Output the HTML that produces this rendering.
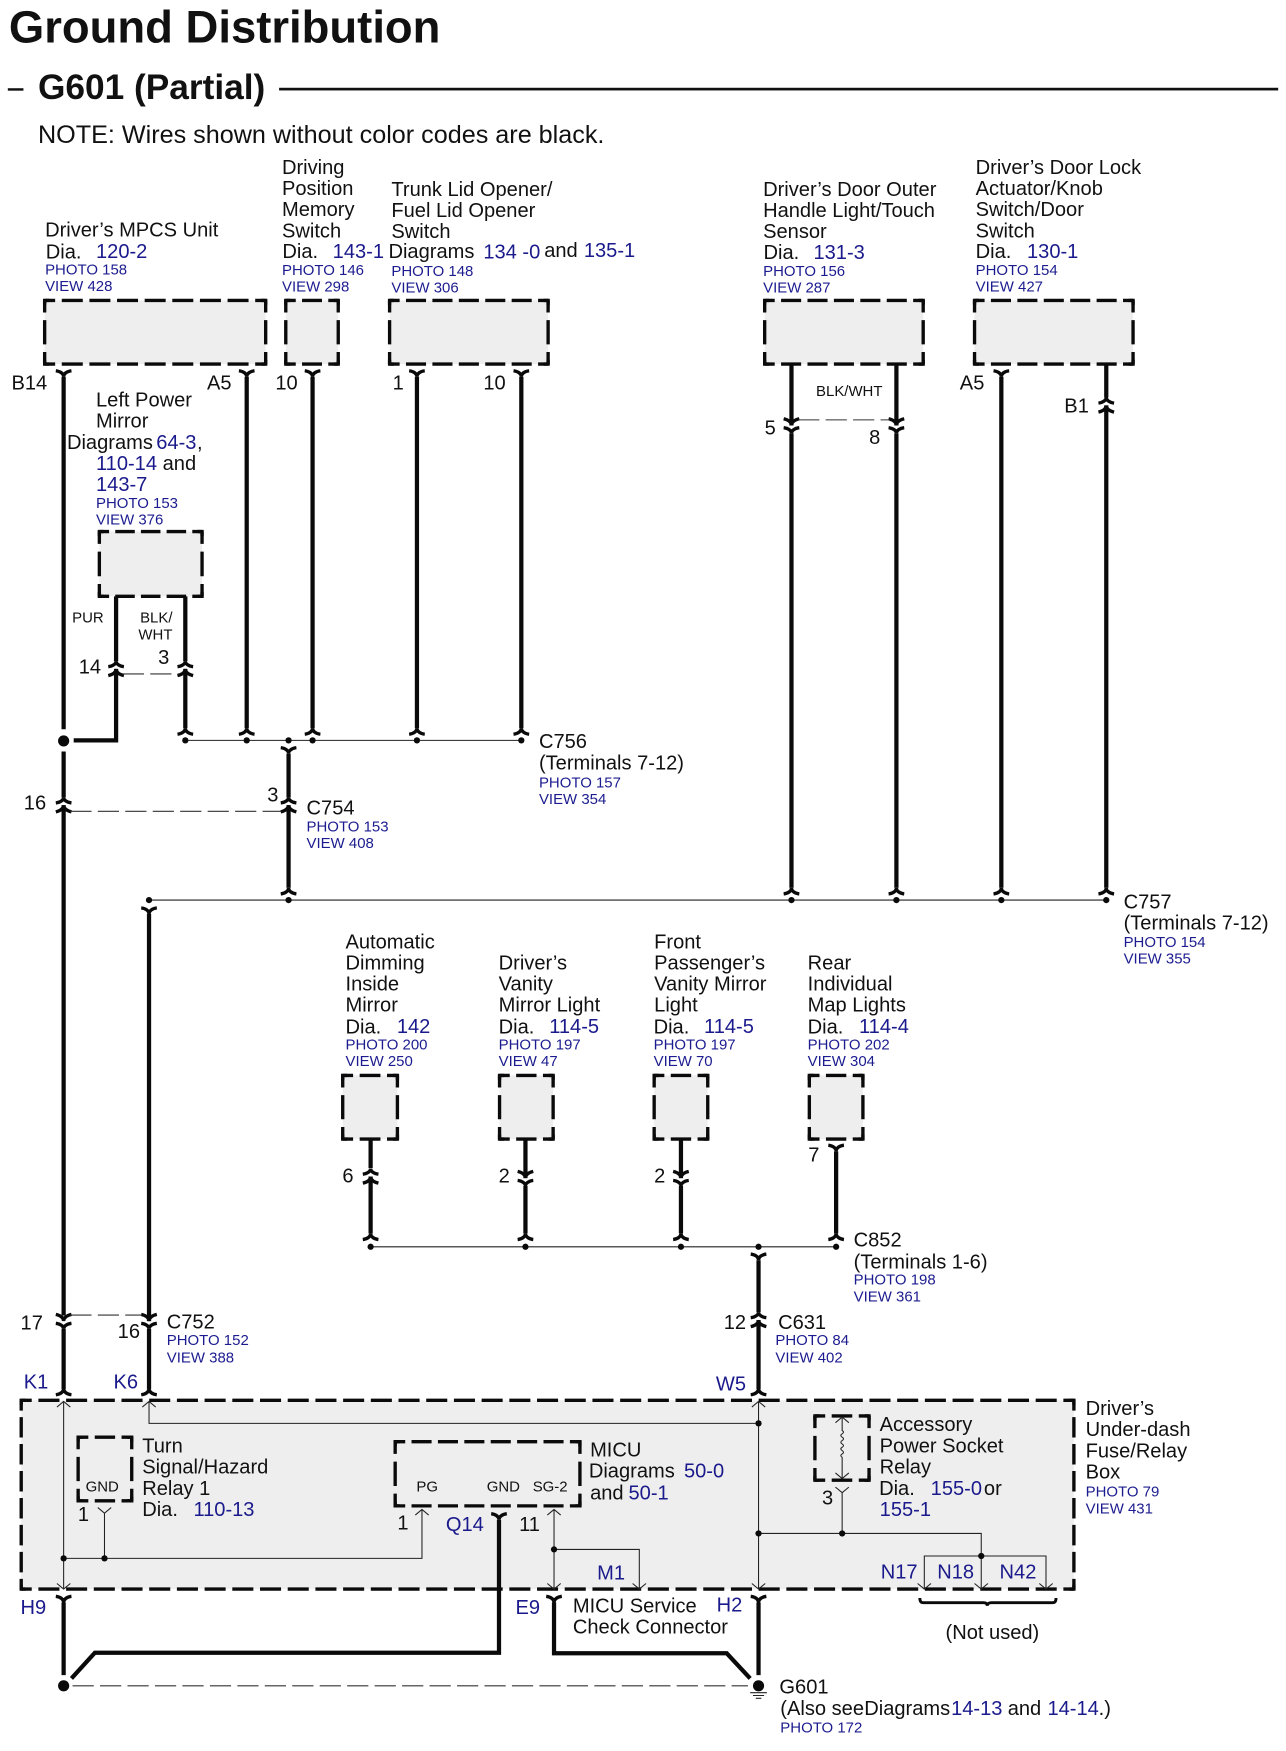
<!DOCTYPE html>
<html><head><meta charset="utf-8"><title>Ground Distribution G601</title>
<style>
html,body{margin:0;padding:0;background:#fff}
svg{display:block;width:1286px;height:1751px}
text{font-family:"Liberation Sans",Arial,sans-serif;font-size:18px;fill:#111}
.b{fill:#1a1a8c}
.p{font-size:13.4px;fill:#1c1c90}
.s{font-size:13.4px;fill:#111}
.w{fill:none;stroke:#0a0a0a;stroke-width:3.8}
.t{fill:none;stroke:#222;stroke-width:.95}
.c{fill:none;stroke:#0a0a0a;stroke-width:3}
.d{fill:none;stroke:#0a0a0a;stroke-width:3;stroke-dasharray:.76 .24;stroke-dashoffset:.38}
.k{fill:none;stroke:#0a0a0a;stroke-width:3}
.l{fill:none;stroke:#333;stroke-width:.95;stroke-dasharray:19 5.6}
</style></head><body>
<svg xmlns="http://www.w3.org/2000/svg" viewBox="0 0 1152 1568" preserveAspectRatio="none">
<defs>
<path id="f" class="c" d="M-7-5.5C-3-5 0-3 0 0C0-3 3-5 7-5.5"/>
<path id="a" class="c" d="M-7 5.5C-3 5 0 3 0 0C0 3 3 5 7 5.5"/>
<path id="dn" class="c" d="M-7-6C-3-5 0-3 0 0C0-3 3-5 7-6M-7 2C-3 2.5 0 4.5 0 7C0 4.5 3 2.500 7 2"/>
<path id="up" class="c" d="M-7 6C-3 5 0 3 0 0C0 3 3 5 7 6M-7-2C-3-2.500 0-4.500 0-7C0-4.500 3-2.500 7-2"/>
<path id="tu" class="t" d="M-6 5L0 0L6 5"/>
<path id="td" class="t" d="M-6-5L0 0L6-5"/>
</defs>

<!-- headers -->
<text x="8" y="38" style="font-size:40.7px;font-weight:bold" fill="#000">Ground Distribution</text>
<rect x="7" y="79" width="14" height="2.2" fill="#111"/>
<text x="34" y="88.6" style="font-size:31.6px;font-weight:bold">G601 (Partial)</text>
<rect x="250" y="78.6" width="895" height="2.4" fill="#111"/>
<text x="34" y="128" style="font-size:22.56px">NOTE: Wires shown without color codes are black.</text>

<!-- filled boxes -->
<g fill="#eee">
<rect x="40" y="269" width="198" height="57"/>
<rect x="256" y="269" width="47" height="57"/>
<rect x="349" y="269" width="142" height="57"/>
<rect x="685" y="269" width="142" height="57"/>
<rect x="873" y="269" width="142" height="57"/>
<rect x="89" y="476" width="92" height="58"/>
<rect x="307" y="963" width="49" height="57"/>
<rect x="447.5" y="963" width="48" height="57"/>
<rect x="586" y="963" width="48" height="57"/>
<rect x="725" y="963" width="48" height="57"/>
<rect x="19" y="1254" width="943" height="169"/>
</g>

<!-- dashed box outlines -->
<g>
<path class="d" pathLength="8" d="M40 269H238"/><path class="d" pathLength="8" d="M40 326H238"/><path class="d" pathLength="2" d="M40 269V326"/><path class="d" pathLength="2" d="M238 269V326"/>
<path class="k" d="M40 273V269H44M234 269H238V273M238 322V326H234M44 326H40V322"/>
<path class="d" pathLength="2" d="M256 269H303"/><path class="d" pathLength="2" d="M256 326H303"/><path class="d" pathLength="2" d="M256 269V326"/><path class="d" pathLength="2" d="M303 269V326"/>
<path class="k" d="M256 273V269H260M299 269H303V273M303 322V326H299M260 326H256V322"/>
<path class="d" pathLength="6" d="M349 269H491"/><path class="d" pathLength="6" d="M349 326H491"/><path class="d" pathLength="2" d="M349 269V326"/><path class="d" pathLength="2" d="M491 269V326"/>
<path class="k" d="M349 273V269H353M487 269H491V273M491 322V326H487M353 326H349V322"/>
<path class="d" pathLength="6" d="M685 269H827"/><path class="d" pathLength="6" d="M685 326H827"/><path class="d" pathLength="2" d="M685 269V326"/><path class="d" pathLength="2" d="M827 269V326"/>
<path class="k" d="M685 273V269H689M823 269H827V273M827 322V326H823M689 326H685V322"/>
<path class="d" pathLength="6" d="M873 269H1015"/><path class="d" pathLength="6" d="M873 326H1015"/><path class="d" pathLength="2" d="M873 269V326"/><path class="d" pathLength="2" d="M1015 269V326"/>
<path class="k" d="M873 273V269H877M1011 269H1015V273M1015 322V326H1011M877 326H873V322"/>
<path class="d" pathLength="4" d="M89 476H181"/><path class="d" pathLength="4" d="M89 534H181"/><path class="d" pathLength="2" d="M89 476V534"/><path class="d" pathLength="2" d="M181 476V534"/>
<path class="k" d="M89 480V476H93M177 476H181V480M181 530V534H177M93 534H89V530"/>
<path class="d" pathLength="2" d="M307 963H356"/><path class="d" pathLength="2" d="M307 1020H356"/><path class="d" pathLength="2" d="M307 963V1020"/><path class="d" pathLength="2" d="M356 963V1020"/>
<path class="k" d="M307 967V963H311M352 963H356V967M356 1016V1020H352M311 1020H307V1016"/>
<path class="d" pathLength="2" d="M447.500 963H495.500"/><path class="d" pathLength="2" d="M447.500 1020H495.500"/><path class="d" pathLength="2" d="M447.500 963V1020"/><path class="d" pathLength="2" d="M495.500 963V1020"/>
<path class="k" d="M447.500 967V963H451.500M491.500 963H495.500V967M495.500 1016V1020H491.500M451.500 1020H447.500V1016"/>
<path class="d" pathLength="2" d="M586 963H634"/><path class="d" pathLength="2" d="M586 1020H634"/><path class="d" pathLength="2" d="M586 963V1020"/><path class="d" pathLength="2" d="M634 963V1020"/>
<path class="k" d="M586 967V963H590M630 963H634V967M634 1016V1020H630M590 1020H586V1016"/>
<path class="d" pathLength="2" d="M725 963H773"/><path class="d" pathLength="2" d="M725 1020H773"/><path class="d" pathLength="2" d="M725 963V1020"/><path class="d" pathLength="2" d="M773 963V1020"/>
<path class="k" d="M725 967V963H729M769 963H773V967M773 1016V1020H769M729 1020H725V1016"/>
<path class="d" pathLength="38" d="M19 1254H962"/><path class="d" pathLength="38" d="M19 1423H962"/><path class="d" pathLength="7" d="M19 1254V1423"/><path class="d" pathLength="7" d="M962 1254V1423"/>
<path class="k" d="M19 1258V1254H23M958 1254H962V1258M962 1419V1423H958M23 1423H19V1419"/>
<path class="d" pathLength="2" d="M70 1287H118"/><path class="d" pathLength="2" d="M70 1344H118"/><path class="d" pathLength="2" d="M70 1287V1344"/><path class="d" pathLength="2" d="M118 1287V1344"/>
<path class="k" d="M70 1291V1287H74M114 1287H118V1291M118 1340V1344H114M74 1344H70V1340"/>
<path class="d" pathLength="7" d="M354 1291H519.500"/><path class="d" pathLength="7" d="M354 1348.500H519.500"/><path class="d" pathLength="2" d="M354 1291V1348.500"/><path class="d" pathLength="2" d="M519.500 1291V1348.500"/>
<path class="k" d="M354 1295V1291H358M515.500 1291H519.500V1295M519.500 1344.500V1348.500H515.500M358 1348.500H354V1344.500"/>
<path class="d" pathLength="2" d="M730 1268H778.500"/><path class="d" pathLength="2" d="M730 1325.500H778.500"/><path class="d" pathLength="2" d="M730 1268V1325.500"/><path class="d" pathLength="2" d="M778.500 1268V1325.500"/>
<path class="k" d="M730 1272V1268H734M774.500 1268H778.500V1272M778.500 1321.500V1325.500H774.500M734 1325.500H730V1321.500"/>
</g>

<!-- thick wires -->
<path class="w" d="M57 337.500V653M57 673V714M57 721V1178M57 1190V1244M57 1435V1500
M221 337.500V652M280 337.500V652M373.500 337.500V652M467 337.500V652
M709 326V381M709 388V795M803 326V381M803 388V795M897 337.500V795M991 326V356M991 363V795
M104 534V592M104 599V663H66M166 534V592M166 599V652
M258.500 675V714M258.500 721V795
M133.500 818.500V1183M133.500 1190V1244
M332 1020V1046M332 1053.500V1104.500M470.700 1020V1055M470.700 1062V1104.500M610 1020V1055M610 1062V1104.500M749 1031V1104.500
M679.500 1128.500V1175M679.500 1182V1244M679.500 1435V1500
M447 1361V1480H85L64 1503
M496.300 1435V1480.500H651L672 1503"/>

<!-- connector symbols -->
<use href="#f" x="57" y="337.500"/><use href="#f" x="221" y="337.500"/><use href="#f" x="280" y="337.500"/><use href="#f" x="373.500" y="337.500"/><use href="#f" x="467" y="337.500"/><use href="#f" x="897" y="337.500"/>
<use href="#up" x="991" y="363"/>
<use href="#dn" x="709" y="381"/><use href="#dn" x="803" y="381"/>
<use href="#up" x="104" y="599"/><use href="#up" x="166" y="599"/>
<use href="#a" x="166" y="652"/><use href="#a" x="221" y="652"/><use href="#a" x="280" y="652"/><use href="#a" x="373.500" y="652"/><use href="#a" x="467" y="652"/>
<use href="#f" x="258.500" y="675"/>
<use href="#up" x="57" y="721"/><use href="#up" x="258.500" y="721"/>
<use href="#a" x="258.500" y="795"/><use href="#a" x="709" y="795"/><use href="#a" x="803" y="795"/><use href="#a" x="897" y="795"/><use href="#a" x="991" y="795"/>
<use href="#f" x="133.500" y="818.500"/>
<use href="#up" x="332" y="1053.500"/><use href="#dn" x="470.700" y="1055"/><use href="#dn" x="610" y="1055"/><use href="#f" x="749" y="1031"/>
<use href="#a" x="332" y="1104.500"/><use href="#a" x="470.700" y="1104.500"/><use href="#a" x="610" y="1104.500"/><use href="#a" x="749" y="1104.500"/>
<use href="#f" x="679.500" y="1128.500"/>
<use href="#dn" x="57" y="1183"/><use href="#dn" x="133.500" y="1183"/><use href="#up" x="679.500" y="1182"/>
<use href="#a" x="57" y="1243.500"/><use href="#a" x="133.500" y="1243.500"/><use href="#a" x="679.500" y="1243.500"/>
<use href="#f" x="57" y="1435"/><use href="#f" x="496.300" y="1435"/><use href="#f" x="679.500" y="1435"/>
<use href="#f" x="447" y="1361"/>

<!-- dashed shield lines -->
<path class="l" d="M715 376H797"/>
<path class="l" d="M110 603.500H160"/>
<path class="l" d="M63 726.500H252"/>
<path class="l" d="M63 1177.600H127"/>
<path class="l" d="M65 1509.600H670"/>

<!-- thin wires -->
<path class="t" d="M166 663H467M133.500 806H991M332 1116.500H749"/>
<path class="t" d="M57 1255V1423M133.500 1255V1274.600H679.500M679.500 1255V1423"/>
<path class="t" d="M57 1395.500H378V1352M93.600 1355V1395.500"/>
<path class="t" d="M496.300 1352V1423M496.300 1387.500H572.700V1423"/>
<path class="t" d="M754.400 1269V1281q2.400 1.500 0 3q-2.400 1.500 0 3q2.400 1.500 0 3q-2.400 1.500 0 3q2.400 1.500 0 3q-2.400 1.500 0 3q2.400 1.500 0 3q-2.400 1.500 0 3V1324M754.400 1336.700V1373.200"/>
<path class="t" d="M679.500 1373.200H879V1423M828 1423V1393.400H937V1423"/>
<use href="#tu" x="57" y="1255"/><use href="#td" x="57" y="1423"/><use href="#tu" x="133.500" y="1255"/><use href="#tu" x="679.500" y="1255"/><use href="#td" x="679.500" y="1423"/>
<use href="#td" x="93.600" y="1355"/><use href="#tu" x="378" y="1351.700"/><use href="#tu" x="496.300" y="1351.700"/><use href="#td" x="496.300" y="1423"/><use href="#td" x="572.700" y="1423"/>
<use href="#tu" x="754.400" y="1269"/><use href="#td" x="754.400" y="1324"/><use href="#td" x="754.400" y="1336.700"/>
<use href="#td" x="828" y="1423"/><use href="#td" x="879" y="1423"/><use href="#td" x="937" y="1423"/>

<!-- dots -->
<g fill="#0a0a0a">
<circle cx="166" cy="663" r="2.800"/><circle cx="221" cy="663" r="2.800"/><circle cx="258.500" cy="663" r="2.800"/><circle cx="280" cy="663" r="2.800"/><circle cx="373.500" cy="663" r="2.800"/><circle cx="467" cy="663" r="2.800"/>
<circle cx="133.500" cy="806" r="2.800"/><circle cx="258.500" cy="806" r="2.800"/><circle cx="709" cy="806" r="2.800"/><circle cx="803" cy="806" r="2.800"/><circle cx="897" cy="806" r="2.800"/><circle cx="991" cy="806" r="2.800"/>
<circle cx="332" cy="1116.500" r="2.800"/><circle cx="470.700" cy="1116.500" r="2.800"/><circle cx="610" cy="1116.500" r="2.800"/><circle cx="679.500" cy="1116.500" r="2.800"/><circle cx="749" cy="1116.500" r="2.800"/>
<circle cx="679.500" cy="1274.600" r="2.800"/><circle cx="57" cy="1395.500" r="2.800"/><circle cx="93.600" cy="1395.500" r="2.800"/><circle cx="496.300" cy="1387.500" r="2.800"/>
<circle cx="679.500" cy="1373.200" r="2.800"/><circle cx="754.400" cy="1373.200" r="2.800"/><circle cx="879" cy="1393.400" r="2.800"/>
<circle cx="57" cy="663.500" r="5"/><circle cx="57" cy="1509.600" r="5"/><circle cx="679.500" cy="1509.600" r="5"/>
</g>
<path d="M672 1515.800H687M674.500 1518.300H684.500M677 1520.800H682" stroke="#222" stroke-width="1" fill="none"/>
<path d="M824 1431C824 1434 825 1435.200 827 1435.200H881C883 1435.200 884.400 1436 884.400 1438C884.400 1436 886 1435.200 888 1435.200H943C945 1435.200 946 1434 946 1431" fill="none" stroke="#0a0a0a" stroke-width="2.600"/>

<!-- top labels -->
<text x="40.400" y="211.800">Driver’s MPCS Unit</text>
<text x="41" y="231.600">Dia.</text><text x="86" y="231" class="b">120-2</text>
<text x="40.400" y="245.700" class="p">PHOTO 158</text><text x="40.400" y="260.500" class="p">VIEW 428</text>

<text x="252.600" y="156">Driving</text><text x="252.600" y="174.800">Position</text><text x="252.600" y="193.600">Memory</text><text x="252.600" y="212.500">Switch</text>
<text x="253" y="231">Dia.</text><text x="298" y="231" class="b">143-1</text>
<text x="252.600" y="246.400" class="p">PHOTO 146</text><text x="252.600" y="261.200" class="p">VIEW 298</text>

<text x="350.600" y="175.500">Trunk Lid Opener/</text><text x="350.600" y="194.300">Fuel Lid Opener</text><text x="350.600" y="213">Switch</text>
<text x="348" y="231">Diagrams</text><text x="433" y="231.300" class="b">134 -0</text><text x="487.500" y="230">and</text><text x="523" y="230" class="b">135-1</text>
<text x="350.600" y="247" class="p">PHOTO 148</text><text x="350.600" y="261.900" class="p">VIEW 306</text>

<text x="683.600" y="175.500">Driver’s Door Outer</text><text x="683.600" y="194.300">Handle Light/Touch</text><text x="683.600" y="213">Sensor</text>
<text x="684" y="232">Dia.</text><text x="728.700" y="232" class="b">131-3</text>
<text x="683.600" y="247" class="p">PHOTO 156</text><text x="683.600" y="262" class="p">VIEW 287</text>

<text x="874" y="156">Driver’s Door Lock</text><text x="874" y="174.800">Actuator/Knob</text><text x="874" y="193.600">Switch/Door</text><text x="874" y="212.500">Switch</text>
<text x="874" y="231">Dia.</text><text x="920" y="231" class="b">130-1</text>
<text x="874" y="246.400" class="p">PHOTO 154</text><text x="874" y="261" class="p">VIEW 427</text>

<!-- top pins -->
<text x="10.300" y="348.900">B14</text><text x="185.400" y="348.900">A5</text><text x="246.700" y="348.900">10</text><text x="351.700" y="348.900">1</text><text x="433" y="348.900">10</text>
<text x="859.800" y="348.900">A5</text><text x="953.400" y="369.400">B1</text><text x="685" y="389">5</text><text x="778.600" y="397.500">8</text>
<text x="731" y="354.700" class="s">BLK/WHT</text>

<!-- left mirror -->
<text x="86" y="364">Left Power</text><text x="86" y="382.800">Mirror</text>
<text x="60" y="402">Diagrams</text><text x="140" y="402" class="b">64-3</text><text x="176.500" y="402">,</text>
<text x="86" y="420.800" class="b">110-14</text><text x="145.700" y="420.800">and</text>
<text x="86" y="439.700" class="b">143-7</text>
<text x="86" y="454.800" class="p">PHOTO 153</text><text x="86" y="469.500" class="p">VIEW 376</text>
<text x="64.600" y="557.600" class="s">PUR</text><text x="125.500" y="557.600" class="s">BLK/</text><text x="124" y="572.500" class="s">WHT</text>
<text x="70.500" y="603">14</text><text x="141.700" y="594.600">3</text>

<!-- C756 / C754 / C757 -->
<text x="482.800" y="670">C756</text><text x="482.800" y="689">(Terminals 7-12)</text>
<text x="482.800" y="705" class="p">PHOTO 157</text><text x="482.800" y="720" class="p">VIEW 354</text>
<text x="21.300" y="724.800">16</text><text x="239.400" y="717.900">3</text>
<text x="274.600" y="729.200">C754</text><text x="274.600" y="744.400" class="p">PHOTO 153</text><text x="274.600" y="759.300" class="p">VIEW 408</text>
<text x="1006.500" y="813.500">C757</text><text x="1006.500" y="832.500">(Terminals 7-12)</text>
<text x="1006.500" y="848" class="p">PHOTO 154</text><text x="1006.500" y="863" class="p">VIEW 355</text>

<!-- middle labels -->
<text x="309.500" y="849.300">Automatic</text><text x="309.500" y="868">Dimming</text><text x="309.500" y="887">Inside</text><text x="309.500" y="906">Mirror</text>
<text x="309.500" y="925.400">Dia.</text><text x="355.500" y="925" class="b">142</text>
<text x="309.500" y="940" class="p">PHOTO 200</text><text x="309.500" y="954.800" class="p">VIEW 250</text>

<text x="446.700" y="868">Driver’s</text><text x="446.700" y="887">Vanity</text><text x="446.700" y="906">Mirror Light</text>
<text x="446.700" y="925.400">Dia.</text><text x="492" y="925" class="b">114-5</text>
<text x="446.700" y="940" class="p">PHOTO 197</text><text x="446.700" y="954.800" class="p">VIEW 47</text>

<text x="586" y="849.300">Front</text><text x="586" y="868">Passenger’s</text><text x="586" y="887">Vanity Mirror</text><text x="586" y="906">Light</text>
<text x="585.500" y="925.400">Dia.</text><text x="630.700" y="925" class="b">114-5</text>
<text x="585.500" y="940" class="p">PHOTO 197</text><text x="585.500" y="954.800" class="p">VIEW 70</text>

<text x="723.500" y="868">Rear</text><text x="723.500" y="887">Individual</text><text x="723.500" y="906">Map Lights</text>
<text x="723.500" y="925.400">Dia.</text><text x="769.500" y="925" class="b">114-4</text>
<text x="723.500" y="940" class="p">PHOTO 202</text><text x="723.500" y="954.800" class="p">VIEW 304</text>

<text x="306.700" y="1059">6</text><text x="446.700" y="1059">2</text><text x="586" y="1059">2</text><text x="724" y="1040.300">7</text>
<text x="764.700" y="1116.400">C852</text><text x="764.700" y="1135.800">(Terminals 1-6)</text>
<text x="764.700" y="1150.400" class="p">PHOTO 198</text><text x="764.700" y="1165.300" class="p">VIEW 361</text>

<!-- C752 / C631 -->
<text x="18.400" y="1190.500">17</text><text x="105.400" y="1198">16</text>
<text x="149.400" y="1189.600">C752</text><text x="149.400" y="1204.400" class="p">PHOTO 152</text><text x="149.400" y="1219.900" class="p">VIEW 388</text>
<text x="648.300" y="1190">12</text><text x="697" y="1190">C631</text>
<text x="694.600" y="1204.400" class="p">PHOTO 84</text><text x="694.600" y="1219.900" class="p">VIEW 402</text>
<text x="21.300" y="1243.300" class="b">K1</text><text x="101.700" y="1243.300" class="b">K6</text><text x="641.300" y="1245.400" class="b">W5</text>

<!-- fuse box contents -->
<text x="127.400" y="1300.900">Turn</text><text x="127.400" y="1319.400">Signal/Hazard</text><text x="127.400" y="1338.800">Relay 1</text>
<text x="127.400" y="1357.600">Dia.</text><text x="173.300" y="1357.600" class="b">110-13</text>
<text x="76.700" y="1335.800" class="s">GND</text><text x="69.800" y="1362">1</text>
<text x="373" y="1335.800" class="s">PG</text><text x="436" y="1335.800" class="s">GND</text><text x="477.200" y="1335.800" class="s">SG-2</text>
<text x="356" y="1369.600">1</text><text x="399.400" y="1371" class="b">Q14</text><text x="465" y="1371">11</text>
<text x="528.600" y="1304.500">MICU</text>
<text x="527.500" y="1323.300">Diagrams</text><text x="612.700" y="1323.300" class="b">50-0</text>
<text x="528.600" y="1342.700">and</text><text x="563" y="1342.700" class="b">50-1</text>
<text x="534.900" y="1414.300" class="b">M1</text>
<text x="788" y="1281.500">Accessory</text><text x="788" y="1300.600">Power Socket</text><text x="788" y="1319.400">Relay</text>
<text x="787.500" y="1338.800">Dia.</text><text x="833.700" y="1338.800" class="b">155-0</text><text x="881.400" y="1338.800">or</text>
<text x="788" y="1357.600" class="b">155-1</text><text x="736.400" y="1347.200">3</text>
<text x="972.500" y="1267.200">Driver’s</text><text x="972.500" y="1286">Under-dash</text><text x="972.500" y="1305">Fuse/Relay</text><text x="972.500" y="1324">Box</text>
<text x="972.500" y="1340.300" class="p">PHOTO 79</text><text x="972.500" y="1355.200" class="p">VIEW 431</text>
<text x="789" y="1413.500" class="b">N17</text><text x="839.600" y="1413.500" class="b">N18</text><text x="895.400" y="1413.500" class="b">N42</text>

<!-- bottom -->
<text x="18.400" y="1445.400" class="b">H9</text><text x="461.800" y="1445.400" class="b">E9</text><text x="642" y="1443.300" class="b">H2</text>
<text x="513.200" y="1444">MICU Service</text><text x="513.200" y="1462.700">Check Connector</text>
<text x="847" y="1467.800">(Not used)</text>
<text x="698.200" y="1516.400">G601</text>
<text x="699" y="1535.800">(Also see</text><text x="774.200" y="1535.800">Diagrams</text><text x="852" y="1535.800" class="b">14-13</text><text x="902.700" y="1535.800">and</text><text x="938.300" y="1535.800" class="b">14-14</text><text x="984.200" y="1535.800">.)</text>
<text x="699" y="1551.400" class="p">PHOTO 172</text>
</svg>
</body></html>
